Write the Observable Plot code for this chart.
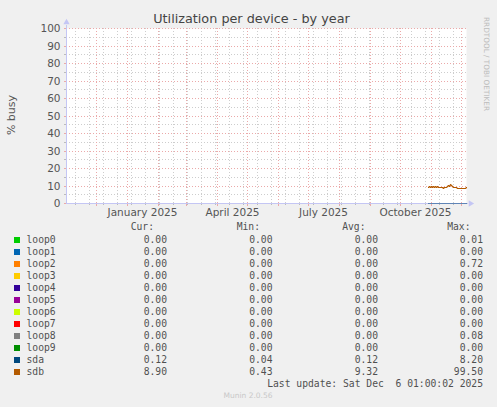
<!DOCTYPE html>
<html><head><meta charset="utf-8">
<script src="https://cdn.jsdelivr.net/npm/d3@7"></script>
<script src="https://cdn.jsdelivr.net/npm/@observablehq/plot@0.6"></script>
<style>
html,body{margin:0;padding:0;background:#f0f0f0;}
#wrap{position:relative;width:497px;height:407px;overflow:hidden;font-family:"DejaVu Sans",sans-serif;}
#wrap svg{position:absolute;left:0;top:0;overflow:visible;}
.abs{position:absolute;white-space:pre;}
.mono{font-family:"DejaVu Sans Mono",monospace;font-size:9.7px;line-height:12px;color:#505050;}
</style></head><body><div id="wrap"></div>
<script>
const title = "Utilization per device - by year";
const yLabel = "% busy";
const sideText = "RRDTOOL / TOBI OETIKER";
const yTicks = [0, 10, 20, 30, 40, 50, 60, 70, 80, 90, 100];
const yMinor = [5, 15, 25, 35, 45, 55, 65, 75, 85, 95];
const xStart = new Date("2024-11-01T01:00:00Z");
const xEnd = new Date("2025-12-06T01:00:00Z");
const monthLines = ["2024-12-01","2025-01-01","2025-02-01","2025-03-01","2025-04-01","2025-05-01","2025-06-01","2025-07-01","2025-08-01","2025-09-01","2025-10-01","2025-11-01","2025-12-01"];
const xTickLabels = ["January 2025", "April 2025", "July 2025", "October 2025"];
const xTickDates = ["2025-01-16", "2025-04-16", "2025-07-16", "2025-10-16"];
const dataStart = "2025-10-29";
const sdbValues = [9.0, 9.8, 9.2, 9.9, 9.1, 9.6, 9.3, 9.8, 9.2, 9.5, 9.3, 9.4, 9.2, 9.3, 9.1, 8.7, 9.3, 9.0, 9.4, 9.9, 10.3, 10.0, 10.6, 10.2, 9.5, 9.2, 9.1, 9.0, 9.1, 8.8, 8.6, 8.5, 8.6, 8.5, 8.6, 8.5, 8.7, 8.8, 8.9];
const sdaValues = [0.12, 0.13, 0.11, 0.12, 0.12, 0.13, 0.12, 0.11, 0.12, 0.12, 0.13, 0.12, 0.12, 0.11, 0.12, 0.12, 0.13, 0.12, 0.12, 0.12, 0.11, 0.12, 0.13, 0.12, 0.12, 0.12, 0.11, 0.12, 0.12, 0.12, 0.13, 0.12, 0.12, 0.11, 0.12, 0.12, 0.12, 0.12, 0.12];
const seriesNames = ["loop0","loop1","loop2","loop3","loop4","loop5","loop6","loop7","loop8","loop9","sda","sdb"];
const seriesColors = ["#00cc00","#0066b3","#ff8000","#ffcc00","#330099","#990099","#ccff00","#ff0000","#808080","#008f00","#00487d","#b35a00"];
const curVals = [0.00,0.00,0.00,0.00,0.00,0.00,0.00,0.00,0.00,0.00,0.12,8.90];
const minVals = [0.00,0.00,0.00,0.00,0.00,0.00,0.00,0.00,0.00,0.00,0.04,0.43];
const avgVals = [0.00,0.00,0.00,0.00,0.00,0.00,0.00,0.00,0.00,0.00,0.12,9.32];
const maxVals = [0.01,0.00,0.72,0.00,0.00,0.00,0.00,0.00,0.08,0.00,8.20,99.50];
const headers = ["Cur:", "Min:", "Avg:", "Max:"];
const lastUpdate = "Last update: Sat Dec  6 01:00:02 2025";
const footer = "Munin 2.0.56";

const day = (s, i) => d3.utcDay.offset(new Date(s + "T00:00:00Z"), i);
const sdb = sdbValues.map((v, i) => ({date: day(dataStart, i), v}));
const sda = sdaValues.map((v, i) => ({date: day(dataStart, i), v}));
const months = monthLines.map(s => new Date(s + "T00:00:00Z"));
const weeks = d3.utcSunday.range(new Date("2024-11-10T00:00:00Z"), xEnd).filter((d, i) => i % 2 === 0);
const labelDates = xTickDates.map(s => new Date(s + "T00:00:00Z"));
const axisColor = "#c4c6f4";
const tipX = d3.utcDay.offset(xEnd, 4);
const yLeft = d3.utcDay.offset(xStart, -2);
const majorColor = "#eba9a9";
const minorColor = "#cdcdcd";

const chart = Plot.plot({
  width: 497, height: 225,
  marginLeft: 66, marginRight: 31, marginTop: 28, marginBottom: 22,
  style: {background: "transparent", fontFamily: "DejaVu Sans", fontSize: "10px", overflow: "visible"},
  x: {type: "utc", domain: [xStart, xEnd], axis: null, round: true},
  y: {domain: [0, 100], axis: null, round: true},
  marks: [
    Plot.frame({fill: "white", stroke: null}),
    Plot.gridY(yMinor, {stroke: minorColor, strokeOpacity: 1, strokeDasharray: "1,2"}),
    Plot.gridX(weeks, {stroke: minorColor, strokeOpacity: 1, strokeDasharray: "1,2"}),
    Plot.gridY(yTicks.filter(d => d > 0), {stroke: majorColor, strokeOpacity: 1, strokeDasharray: "1,2"}),
    Plot.gridX(months, {stroke: majorColor, strokeOpacity: 1, strokeDasharray: "1,2"}),
    Plot.ruleX(weeks, {x: d => d, y1: 0, y2: -1.2, stroke: "#bbb", clip: false}),
    Plot.ruleX(months, {x: d => d, y1: 0, y2: -1.8, stroke: majorColor, clip: false}),
    Plot.ruleY(yMinor, {y: d => d, x1: yLeft, x2: xStart, stroke: "#bbb"}),
    Plot.ruleY(yTicks, {y: d => d, x1: yLeft, x2: xStart, stroke: majorColor}),
    Plot.ruleY([0], {x1: xStart, x2: d3.utcDay.offset(xEnd, 2), stroke: axisColor}),
    Plot.ruleX([xStart], {y1: 0, y2: 101.5, stroke: axisColor}),
    Plot.dot([0], {x: () => tipX, y: 0, symbol: "triangle2", r: 3, fill: axisColor, stroke: null, rotate: 90}),
    Plot.dot([0], {x: () => xStart, y: 103.3, symbol: "triangle2", r: 3, fill: axisColor, stroke: null}),
    Plot.line(sda, {x: "date", y: "v", stroke: "#00487d", strokeWidth: 1, strokeOpacity: 0.6}),
    Plot.line(sdb, {x: "date", y: "v", stroke: "#b35a00", strokeWidth: 1.1}),
    Plot.text(yTicks, {x: () => xStart, y: d => d, text: d => String(d), textAnchor: "end", dx: -6, fill: "#555", fontSize: 10.5}),
    Plot.text(labelDates, {x: d => d, y: 0, text: (d, i) => xTickLabels[i], lineAnchor: "top", dy: 5, fill: "#555", fontSize: 10.5})
  ]
});

const wrap = document.getElementById("wrap");
wrap.appendChild(chart);

function addDiv(text, style, cls) {
  const d = document.createElement("div");
  d.className = "abs " + (cls || "");
  d.textContent = text;
  Object.assign(d.style, style);
  wrap.appendChild(d);
  return d;
}

addDiv(title, {left: "0", width: "497px", textAlign: "center", top: "11px", fontSize: "12.8px", color: "#444", lineHeight: "16px", paddingLeft: "3px"});
addDiv(yLabel, {left: "12px", top: "115px", fontSize: "11px", color: "#555", transform: "translate(-50%,-50%) rotate(-90deg)", lineHeight: "12px"});
addDiv(sideText, {left: "486px", top: "64px", fontSize: "7.3px", color: "#bcbcbc", transform: "translate(-50%,-50%) rotate(90deg)", lineHeight: "9px"});

const colRights = [154, 260, 365.5, 470.5];
const valRights = [167, 272.5, 378, 483];
headers.forEach((h, j) => addDiv(h, {right: (497 - colRights[j]) + "px", top: "221px", textAlign: "right"}, "mono"));
const cols = [curVals, minVals, avgVals, maxVals];
seriesNames.forEach((name, i) => {
  const cy = 239.7 + 12 * i;
  const sw = document.createElement("div");
  sw.className = "abs";
  Object.assign(sw.style, {left: "14px", top: (cy - 3) + "px", width: "6px", height: "6px", background: seriesColors[i]});
  wrap.appendChild(sw);
  addDiv(name, {left: "26.5px", top: (cy - 6) + "px"}, "mono");
  cols.forEach((c, j) => addDiv(c[i].toFixed(2), {right: (497 - valRights[j]) + "px", top: (cy - 6) + "px", textAlign: "right"}, "mono"));
});
addDiv(lastUpdate, {right: (497 - 483) + "px", top: "377.5px", textAlign: "right"}, "mono");
addDiv(footer, {left: "248px", top: "396px", transform: "translate(-50%,-50%)", fontSize: "7.5px", color: "#c8c8c8", lineHeight: "10px"});
</script></body></html>
